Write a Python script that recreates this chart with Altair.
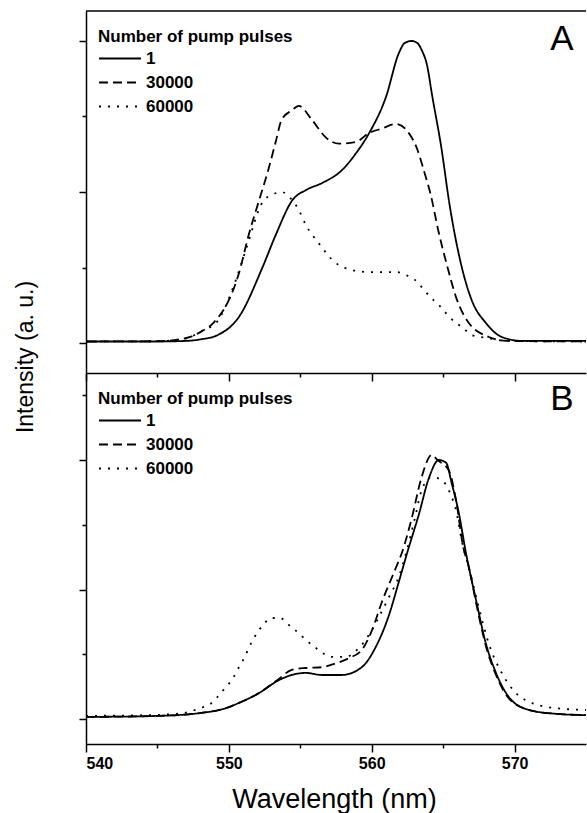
import altair as alt
import pandas as pd

FONT = "Liberation Sans"
pulse_labels = ["1", "30000", "60000"]
panel_labels = ["A", "B"]
y_title = "Intensity (a. u.)"
x_title = "Wavelength (nm)"
legend_title = "Number of pump pulses"
x_ticks = [540, 545, 550, 555, 560, 565, 570]
yA_ticks = [0, 0.25, 0.5, 0.75, 1.0]
yB_ticks = [0, 0.25, 0.5, 0.75, 1.0, 1.25]

# ---- Panel A ----
wl_A1 = [540, 545, 547, 548, 549.2, 550.7, 552.35, 553.3, 554.45, 555.42, 556.54, 557.93, 558.91,
         559.82, 561.0, 561.9, 562.3, 562.8, 563.2, 563.5, 563.9, 564.2, 564.9, 565.4, 566.3, 567.0,
         568.0, 569.1, 570.5, 575]
int_A1 = [0.005, 0.005, 0.007, 0.012, 0.026, 0.086, 0.25, 0.36, 0.473, 0.507, 0.53, 0.573, 0.629,
          0.695, 0.815, 0.96, 0.993, 1.0, 0.993, 0.97, 0.914, 0.828, 0.639, 0.473, 0.252, 0.142,
          0.066, 0.02, 0.007, 0.007]

wl_A2 = [540, 545, 546.5, 547.3, 548, 548.9, 550.3, 550.7, 551.4, 552.1, 552.8, 553.3, 553.7, 554.4,
         554.9, 555.8, 556.8, 557.7, 558.9, 559.8, 560.7, 561.7, 562.6, 563.2, 563.7, 564.1, 564.7,
         565.3, 565.9, 566.8, 568.2, 569.4, 575]
int_A2 = [0.005, 0.006, 0.012, 0.02, 0.036, 0.066, 0.175, 0.23, 0.36, 0.47, 0.58, 0.67, 0.74, 0.77,
          0.785, 0.74, 0.68, 0.66, 0.666, 0.695, 0.71, 0.725, 0.695, 0.64, 0.563, 0.497, 0.364,
          0.252, 0.152, 0.066, 0.02, 0.007, 0.005]

wl_A3 = [540, 545, 547, 548.2, 549.1, 550.5, 551.2, 552.4, 553.0, 553.7, 554.3, 554.9, 555.4, 556.3,
         557.4, 558.6, 559.8, 561.7, 562.4, 563.0, 563.5, 564.1, 564.7, 565.2, 565.8, 566.4, 567.0,
         568.2, 569.4, 575]
int_A3 = [0.005, 0.006, 0.015, 0.043, 0.066, 0.21, 0.31, 0.47, 0.49, 0.5, 0.48, 0.44, 0.39, 0.33,
          0.268, 0.242, 0.235, 0.235, 0.225, 0.21, 0.185, 0.152, 0.126, 0.099, 0.07, 0.05, 0.026,
          0.016, 0.007, 0.005]

# ---- Panel B ----
wl_B1 = [540, 545, 548, 549.8, 550.7, 552.1, 553.5, 554.4, 555.4, 556.5, 557.9, 559.3, 560.3, 561.2,
         561.9, 562.5, 563.3, 564.0, 564.7, 565.2, 565.6, 566.1, 566.6, 567.3, 568.0, 568.7, 569.6,
         571.0, 572.9, 575]
int_B1 = [0.008, 0.012, 0.023, 0.042, 0.062, 0.10, 0.15, 0.17, 0.178, 0.17, 0.17, 0.2, 0.28, 0.40,
          0.53, 0.645, 0.79, 0.93, 1.0, 0.99, 0.91, 0.795, 0.64, 0.46, 0.29, 0.178, 0.085, 0.035,
          0.02, 0.015]

wl_B2 = [540, 545, 548, 549.8, 550.7, 552.1, 553.5, 554.4, 555.4, 556.5, 557.2, 558.4, 559.3, 560.0,
         560.7, 561.7, 562.1, 562.8, 563.5, 564.2, 564.6, 565.4, 565.9, 566.4, 566.8, 567.3, 568.0,
         568.7, 569.6, 571.0, 572.9, 575]
int_B2 = [0.008, 0.012, 0.023, 0.042, 0.062, 0.10, 0.155, 0.19, 0.197, 0.2, 0.21, 0.235, 0.266, 0.34,
          0.45, 0.585, 0.64, 0.775, 0.935, 1.02, 1.0, 0.96, 0.846, 0.665, 0.587, 0.45, 0.28, 0.17,
          0.08, 0.035, 0.02, 0.015]

wl_B3 = [540, 545, 546.8, 548.0, 548.7, 549.2, 549.8, 550.3, 550.6, 551.0, 551.6, 552.4, 553.0,
         553.6, 554.2, 554.8, 555.4, 556.1, 557.2, 558.2, 559.1, 559.8, 560.5, 561.2, 561.9, 562.4,
         563.0, 563.5, 564.2, 564.9, 565.5, 565.9, 566.3, 566.9, 567.5, 568.2, 569.1, 570.1, 571.2,
         572.9, 575]
int_B3 = [0.012, 0.016, 0.023, 0.042, 0.058, 0.085, 0.124, 0.158, 0.19, 0.228, 0.297, 0.363, 0.39,
          0.39, 0.363, 0.336, 0.305, 0.274, 0.24, 0.24, 0.274, 0.324, 0.394, 0.47, 0.55, 0.64,
          0.77, 0.884, 0.934, 0.923, 0.87, 0.807, 0.69, 0.564, 0.43, 0.29, 0.178, 0.10, 0.062,
          0.042, 0.035]


def frame(series):
    rows = []
    for label, wls, vals in series:
        for w, v in zip(wls, vals):
            rows.append({"wavelength": w, "intensity": v, "pulses": label})
    return pd.DataFrame(rows)


dfA = frame([(pulse_labels[0], wl_A1, int_A1), (pulse_labels[1], wl_A2, int_A2),
             (pulse_labels[2], wl_A3, int_A3)])
dfB = frame([(pulse_labels[0], wl_B1, int_B1), (pulse_labels[1], wl_B2, int_B2),
             (pulse_labels[2], wl_B3, int_B3)])

W = 500
HA, HB = 362, 371

dash_scale = alt.Scale(domain=pulse_labels, range=[[1, 0], [9, 5], [2, 7]])


def legend():
    return alt.Legend(
        title=legend_title, orient="none", legendX=12, legendY=18,
        symbolType="stroke", symbolSize=1764, symbolStrokeWidth=2,
        symbolStrokeColor="black", labelFont=FONT, labelFontSize=17,
        labelFontWeight="bold", labelColor="black", titleFont=FONT,
        titleFontSize=17, titleFontWeight="bold", titleColor="black",
        titleLimit=400, labelLimit=300, clipHeight=17,
        rowPadding=6, titlePadding=4, labelOffset=4, padding=0,
    )


def x_enc(show):
    return alt.X(
        "wavelength:Q",
        scale=alt.Scale(domain=[540, 575], nice=False, zero=False),
        axis=alt.Axis(
            values=x_ticks, labels=show, title=x_title if show else None,
            labelExpr="datum.value % 10 === 0 ? datum.label : ''",
            tickSize={"condition": {"test": "datum.value % 10 === 0", "value": 8}, "value": 4},
            labelPadding=3.5, titlePadding=15, titleX=248,
        ),
    )


def y_enc(domain, ticks):
    return alt.Y(
        "intensity:Q",
        scale=alt.Scale(domain=domain, nice=False, zero=False),
        axis=alt.Axis(
            values=ticks, labels=False, title=None,
            tickSize={"condition": {"test": "datum.value % 0.5 === 0", "value": 7}, "value": 4},
        ),
    )


def lines(df, show, domain, ticks):
    return alt.Chart(df).mark_line(
        color="black", strokeWidth=1.8, clip=True, interpolate="monotone"
    ).encode(
        x=x_enc(show),
        y=y_enc(domain, ticks),
        strokeDash=alt.StrokeDash("pulses:N", scale=dash_scale, sort=pulse_labels, legend=legend()),
    )


def letter(idx, y):
    return alt.Chart(pd.DataFrame({"label": [panel_labels[idx]]})).mark_text(
        font=FONT, fontSize=35, color="black", align="center", baseline="alphabetic"
    ).encode(text="label:N", x=alt.value(476), y=alt.value(y))


top_border = alt.Chart(pd.DataFrame({"k": [0]})).mark_rule(color="black", strokeWidth=1.5).encode(
    x=alt.value(0), x2=alt.value(W), y=alt.value(0)
)

ytitle = alt.Chart(pd.DataFrame({"label": [y_title]})).mark_text(
    font=FONT, fontSize=23, color="black", align="center", baseline="alphabetic", angle=270
).encode(text="label:N", x=alt.value(-53), y=alt.value(346))

panelA = alt.layer(
    lines(dfA, False, [-0.0993, 1.0993], yA_ticks), top_border, letter(0, 39), ytitle
).properties(width=W, height=HA)

panelB = alt.layer(
    lines(dfB, True, [-0.0965, 1.336], yB_ticks), letter(1, 37)
).properties(width=W, height=HB)

chart = alt.vconcat(panelA, panelB, spacing=0, bounds="flush").resolve_scale(
    x="independent", y="independent", strokeDash="independent"
).resolve_legend(strokeDash="independent").properties(
    padding={"left": 15, "top": 10, "right": 0, "bottom": 0}, background="white"
).configure_view(stroke=None).configure_axis(
    domainColor="black", domainWidth=1.5, tickColor="black", tickWidth=1.5,
    labelFont=FONT, labelFontSize=16, labelFontWeight="bold", labelColor="black",
    titleFont=FONT, titleFontSize=27, titleFontWeight="normal", titleColor="black",
    grid=False,
)

chart.save("out.html", embed_options={"renderer": "svg", "actions": False})
